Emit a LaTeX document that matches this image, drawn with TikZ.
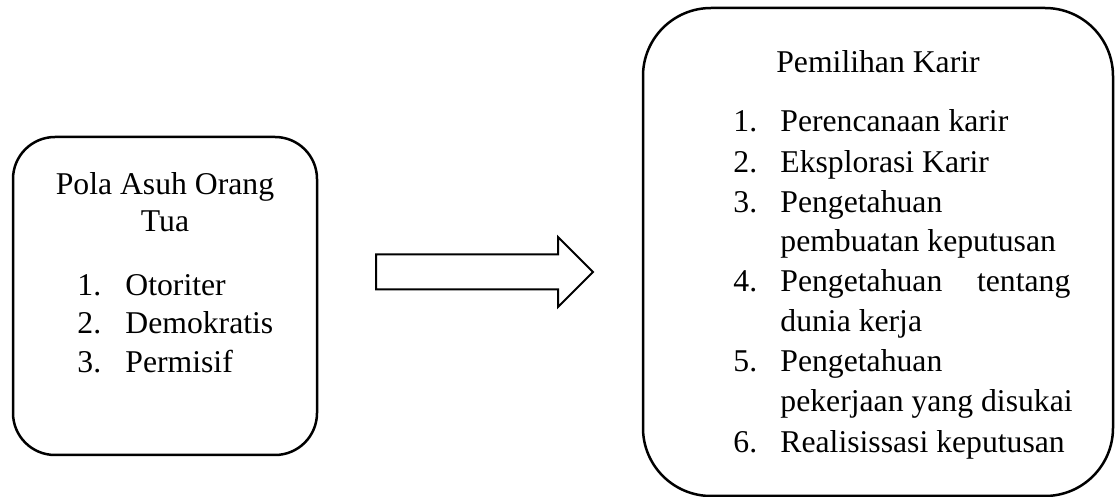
\documentclass[tikz,border=0pt]{standalone}
\usepackage{fontspec}
\setmainfont{Liberation Serif}
\begin{document}
\begin{tikzpicture}[x=0.5pt,y=-0.5pt,
  boxstyle/.style={draw=black, line width=1.25pt, rounded corners=#1, inner sep=0pt},
  txt/.style={inner sep=0pt, anchor=base west, font=\fontsize{15.85}{20}\selectfont},
  ttl/.style={inner sep=0pt, anchor=base, font=\fontsize{15.85}{20}\selectfont}]
\useasboundingbox (0,0) rectangle (1115,497);
% boxes
\node[boxstyle=21pt, minimum width=152pt, minimum height=159pt] (kiri) at (165,296) {};
\node[boxstyle=34pt, minimum width=235pt, minimum height=244pt] (kanan) at (878,252) {};
% left text
\node[ttl] (t1) at (165,195) {Pola Asuh Orang};
\node[ttl] (t2) at (165,232) {Tua};
\node[txt] (n1) at (77,296) {1.};
\node[txt] (l1) at (125,296) {Otoriter};
\node[txt] (n2) at (77,334) {2.};
\node[txt] (l2) at (125,334) {Demokratis};
\node[txt] (n3) at (77,373) {3.};
\node[txt] (l3) at (125,373) {Permisif};
% right text
\node[ttl] (r0) at (878,73) {Pemilihan Karir};
\node[txt] (m1) at (733,132) {1.};
\node[txt] (r1) at (780,132) {Perencanaan karir};
\node[txt] (m2) at (733,173) {2.};
\node[txt] (r2) at (780,173) {Eksplorasi Karir};
\node[txt] (m3) at (733,213) {3.};
\node[txt] (r3) at (780,213) {Pengetahuan};
\node[txt] (r3b) at (780,252) {pembuatan keputusan};
\node[txt] (m4) at (733,292) {4.};
\node[txt] (r4) at (780,292) {\makebox[145pt][s]{Pengetahuan\hfill tentang}};
\node[txt] (r4b) at (780,332) {dunia kerja};
\node[txt] (m5) at (733,372) {5.};
\node[txt] (r5) at (780,372) {Pengetahuan};
\node[txt] (r5b) at (780,412) {pekerjaan yang disukai};
\node[txt] (m6) at (733,452) {6.};
\node[txt] (r6) at (780,452) {Realisissasi keputusan};
% block arrow
\draw[line width=1pt, line join=miter] (376,254.5) -- (558,254.5) -- (558,237) -- (593,272) -- (558,307) -- (558,289.5) -- (376,289.5) -- cycle;
\end{tikzpicture}
\end{document}
